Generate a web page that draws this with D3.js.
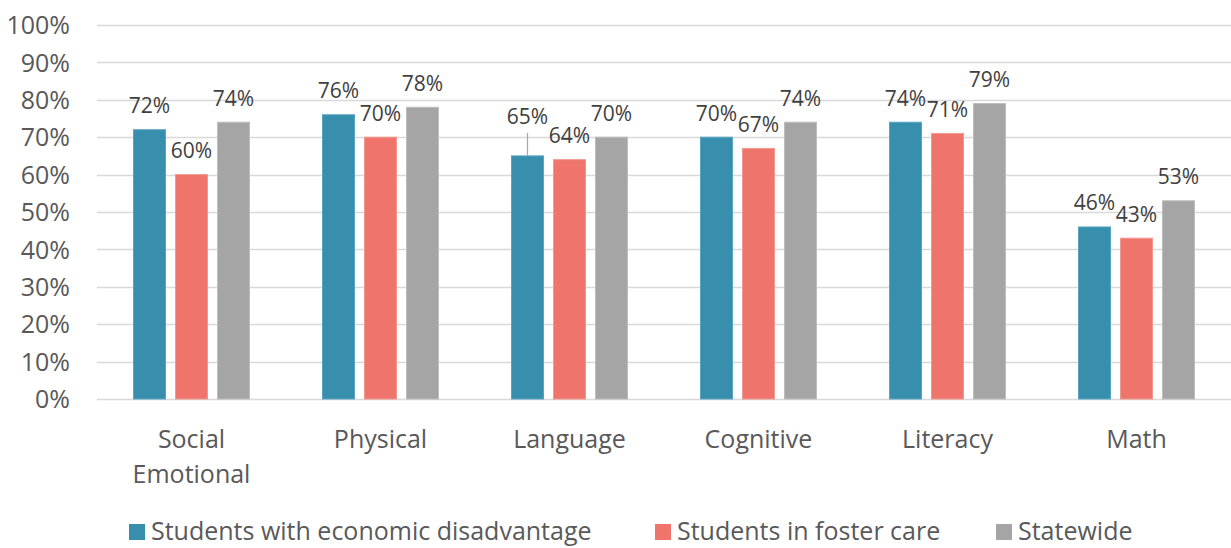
<!DOCTYPE html>
<html>
<head>
<meta charset="utf-8">
<script src="https://cdn.jsdelivr.net/npm/d3@7"></script>
<style>
  html, body { margin: 0; padding: 0; background: #fff; }
  svg { display: block; font-family: "Open Sans", "Noto Sans", sans-serif; }
</style>
</head>
<body>
<svg id="chart" width="1231" height="548"></svg>
<script>
// Readiness domains
const categories = [["Social", "Emotional"], ["Physical"], ["Language"], ["Cognitive"], ["Literacy"], ["Math"]];
const seriesNames = ["Students with economic disadvantage", "Students in foster care", "Statewide"];
const economic = [72, 76, 65, 70, 74, 46];
const foster = [60, 70, 64, 67, 71, 43];
const statewide = [74, 78, 70, 74, 79, 53];
const yTicks = [0, 10, 20, 30, 40, 50, 60, 70, 80, 90, 100];

const seriesValues = [economic, foster, statewide];
const colors = ["#388EAD", "#EF746C", "#A5A5A5"];
const strokes = ["#5BA4C0", "#F39891", "#BDBDBD"];

const svg = d3.select("#chart");
const plot = { left: 97, right: 1231, top: 25, bottom: 399 };

const x0 = d3.scaleBand()
  .domain(categories.map((c, i) => i))
  .range([plot.left, plot.right])
  .paddingInner(0).paddingOuter(0);

const barW = 33, barGap = 9;
const groupW = barW * 3 + barGap * 2;
const x1 = d3.scaleBand()
  .domain(seriesNames.map((s, i) => i))
  .range([0, groupW])
  .paddingInner(barGap / (barW + barGap));

const y = d3.scaleLinear().domain([0, 100]).range([plot.bottom, plot.top]);

// Gridlines
svg.append("g")
  .selectAll("line")
  .data(yTicks)
  .join("line")
  .attr("x1", plot.left)
  .attr("x2", plot.right)
  .attr("y1", d => Math.round(y(d)) + 0.5)
  .attr("y2", d => Math.round(y(d)) + 0.5)
  .attr("stroke", "#D9D9D9")
  .attr("stroke-width", 1.5);

// Y axis labels
const yAxis = d3.axisLeft(y).tickValues(yTicks).tickFormat(d => d + "%").tickSize(0).tickPadding(0);
const yg = svg.append("g").attr("transform", `translate(70,0)`).call(yAxis);
yg.select(".domain").remove();
yg.selectAll("text")
  .attr("fill", "#595959")
  .style("font-size", "25px")
  .style("font-family", "'Open Sans', sans-serif")
  .attr("dy", "0.35em");

// Bars
const groups = svg.append("g")
  .selectAll("g")
  .data(categories.map((c, i) => i))
  .join("g")
  .attr("transform", i => `translate(${x0(i) + (x0.bandwidth() - groupW) / 2},0)`);

groups.selectAll("rect")
  .data(i => seriesValues.map((vals, s) => ({ s, v: vals[i], c: i })))
  .join("rect")
  .attr("x", d => x1(d.s) + 0.5)
  .attr("width", x1.bandwidth() - 1)
  .attr("y", d => y(d.v))
  .attr("height", d => y(0) - y(d.v))
  .attr("fill", d => colors[d.s])
  .attr("stroke", d => strokes[d.s])
  .attr("stroke-width", 1);

// Data labels; one label is lifted clear of its neighbour and tied back with a leader line
const lifted = { "2-0": 15 };
groups.each(function (i) {
  const g = d3.select(this);
  seriesValues.forEach((vals, s) => {
    const v = vals[i];
    const cx = x1(s) + x1.bandwidth() / 2;
    const extra = lifted[`${i}-${s}`] || 0;
    const ly = y(v) - 24 - extra;
    if (extra) {
      g.append("line")
        .attr("x1", cx).attr("x2", cx)
        .attr("y1", ly + 16).attr("y2", y(v))
        .attr("stroke", "#A6A6A6").attr("stroke-width", 1.2);
    }
    g.append("text")
      .attr("x", cx)
      .attr("y", ly)
      .attr("dy", "0.35em")
      .attr("text-anchor", "middle")
      .attr("fill", "#404040")
      .style("font-size", "21px")
      .text(v + "%");
  });
});

// Category labels
const xg = svg.append("g");
categories.forEach((lines, i) => {
  const t = xg.append("text")
    .attr("x", x0(i) + x0.bandwidth() / 2)
    .attr("y", 448)
    .attr("text-anchor", "middle")
    .attr("fill", "#595959")
    .style("font-size", "25px");
  lines.forEach((ln, k) => {
    t.append("tspan")
      .attr("x", x0(i) + x0.bandwidth() / 2)
      .attr("dy", k === 0 ? 0 : 35)
      .text(ln);
  });
});

// Legend
const legendX = [129, 655, 996];
const legend = svg.append("g");
seriesNames.forEach((name, s) => {
  legend.append("rect")
    .attr("x", legendX[s]).attr("y", 524)
    .attr("width", 16).attr("height", 16)
    .attr("fill", colors[s]);
  legend.append("text")
    .attr("x", legendX[s] + 22)
    .attr("y", 540)
    .attr("fill", "#595959")
    .style("font-size", "25px")
    .text(name);
});
</script>
</body>
</html>
